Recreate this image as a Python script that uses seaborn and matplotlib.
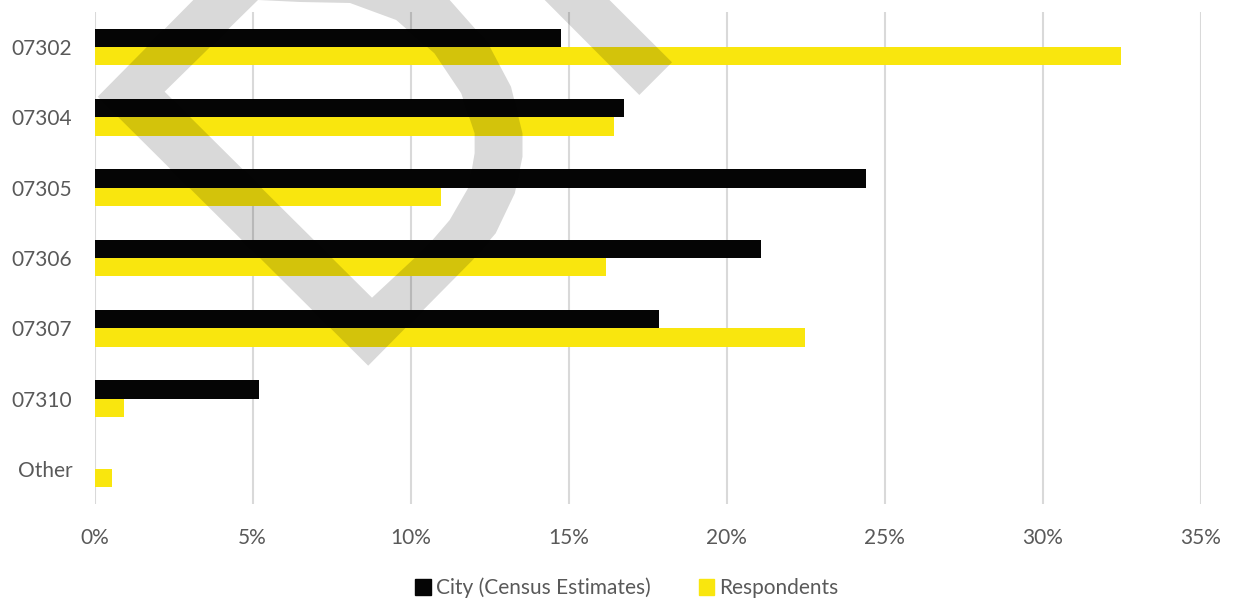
import numpy as np
import pandas as pd
import seaborn as sns
import matplotlib
matplotlib.use("Agg")
import matplotlib.pyplot as plt
from matplotlib.path import Path
import matplotlib.patches as mpatches

# data (share of total, 0-1)
zips = ["07302", "07304", "07305", "07306", "07307", "07310", "Other"]
city = [0.1476, 0.1676, 0.2441, 0.2108, 0.1786, 0.0520, 0.0]
respondents = [0.3248, 0.1643, 0.1096, 0.1619, 0.2249, 0.0094, 0.0054]
series = ["City (Census Estimates)", "Respondents"]

df = pd.DataFrame({
    "zip": zips * 2,
    "share": city + respondents,
    "group": [series[0]] * len(zips) + [series[1]] * len(zips),
})

sns.set_style("white")
plt.rcParams['font.family'] = ['Lato', 'DejaVu Sans']

grey_txt = '#595959'
colors = {series[0]: '#050505', series[1]: '#F9E60E'}

fig = plt.figure(figsize=(12.34, 6.0), dpi=100)
ax = fig.add_axes([0.0767, 0.16, 0.8963, 0.82])

sns.barplot(data=df, y="zip", x="share", hue="group", order=zips, hue_order=series,
            palette=colors, saturation=1, orient="h", width=0.52, linewidth=0,
            ax=ax, legend=True)

ax.set_xlim(0, 0.35)
ax.set_ylim(6.5, -0.5)
ticks = np.arange(0, 0.351, 0.05)
ax.set_xticks(ticks)
ax.set_xticklabels([f"{int(round(v*100))}%" for v in ticks])
ax.xaxis.grid(True, color='#d9d9d9', linewidth=1.5)
ax.set_axisbelow(True)
for s in ax.spines.values():
    s.set_visible(False)
ax.set_xlabel(""); ax.set_ylabel("")
ax.tick_params(axis='y', length=0, pad=16, labelsize=15, labelcolor=grey_txt)
ax.tick_params(axis='x', length=0, pad=17, labelsize=15, labelcolor=grey_txt)

handles = [mpatches.Patch(color=colors[g], label=g) for g in series]
ax.legend(handles=handles, loc='center', bbox_to_anchor=(627/1234, 1 - 588/600),
          bbox_transform=fig.transFigure, ncol=2, frameon=False, fontsize=15,
          handlelength=0.75, handleheight=0.75, handletextpad=0.25, columnspacing=2.3,
          labelcolor=grey_txt)

# grey logo watermark over the plot (pixel outline, y from top)
outer = [(97.7, 96.7), (193.3, 0), (449.7, 0), (488, 43.3), (511, 86.7), (522.5, 133.3),
         (522.5, 156.7), (514.8, 193.3), (495.7, 233.3), (472.7, 260), (368.2, 365.7)]
inner = [(164.6, 91.7), (372, 297.7), (426.8, 246.7), (449.7, 220), (468.9, 186.7),
         (474.6, 153.3), (474.6, 133.3), (461.2, 93.3), (434.4, 53.3), (396.2, 20),
         (350, 3), (300, 2), (258, 0)]
corner = [(544.7, 0), (609.5, 0), (672, 62.3), (639.3, 95)]

def to_fig(pts):
    return [(x / 1234, 1 - y / 600) for x, y in pts]

verts, codes = [], []
for ring in (outer, inner):
    r = to_fig(ring)
    verts += r + [r[0]]
    codes += [Path.MOVETO] + [Path.LINETO] * (len(r) - 1) + [Path.CLOSEPOLY]
wm = mpatches.PathPatch(Path(verts, codes), facecolor='black', alpha=0.15,
                        edgecolor='none', transform=fig.transFigure, zorder=5)
fig.patches.append(wm)
wm2 = mpatches.Polygon(to_fig(corner), closed=True, facecolor='black', alpha=0.15,
                       edgecolor='none', transform=fig.transFigure, zorder=5)
fig.patches.append(wm2)

plt.savefig("out.png", dpi=100)
